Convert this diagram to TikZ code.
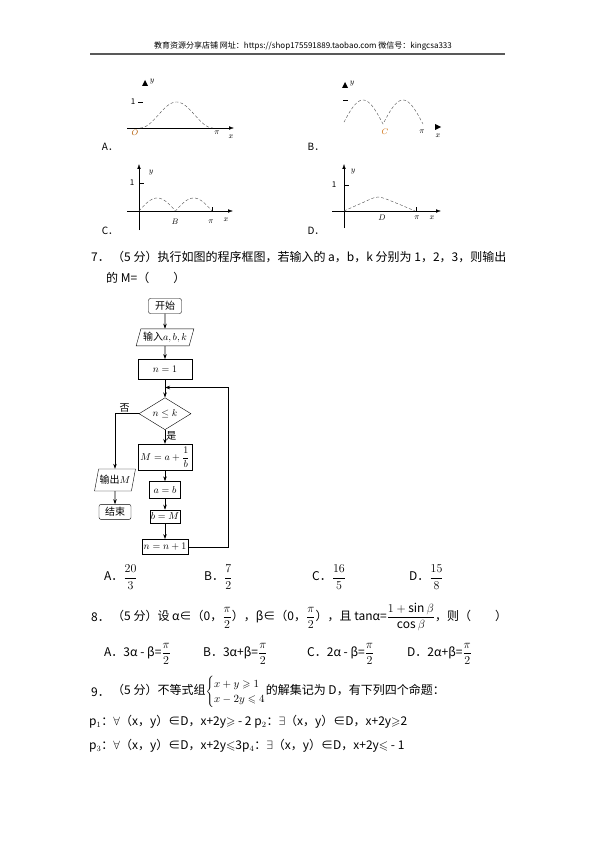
\documentclass[tikz,border=0pt]{standalone}
\usepackage{amsmath}
\usepackage{amssymb}
\usepackage{fontspec}
\setmainfont{Noto Sans CJK SC}
\usetikzlibrary{shapes.geometric,positioning,arrows.meta}

\tikzset{
  every node/.style={inner sep=1pt, font=\fontsize{12}{14}\selectfont},
  txt/.style={anchor=west},
  lbl/.style={font=\fontsize{8}{9}\selectfont},
  box/.style={draw, rectangle, inner sep=1pt, font=\fontsize{10}{12}\selectfont},
  term/.style={box, rounded corners=2pt},
  io/.style={draw, trapezium, trapezium left angle=70, trapezium right angle=110,
    trapezium stretches=true, inner sep=1pt, font=\fontsize{10}{12}\selectfont},
  test/.style={draw, diamond, aspect=1.6, inner sep=0pt, font=\fontsize{10}{12}\selectfont},
  flow/.style={-{Stealth[length=5pt,width=3.5pt]}, semithick},
  axis/.style={-{Latex[length=5pt,width=3.5pt]}, thin},
  curve/.style={densely dashed, gray!60!black, thin},
}

\begin{document}
\begin{tikzpicture}[x=1pt, y=-1pt]
    \useasboundingbox (0,0) rectangle (595,842);
    % header
    \node[font=\fontsize{8}{9}\selectfont] (head) at (303,46)
      {教育资源分享店铺\ 网址：https://shop175591889.taobao.com\ 微信号：kingcsa333};
    \draw[line width=1.2pt, gray!70!black] (90,54) -- (505,54);

    % graph A
    \fill (142,86) -- (148,86) -- (145,80) -- cycle;
    \node[lbl] (ay) at (152,82) {$y$};
    \node[lbl] (a1) at (133,102) {1};
    \draw (138,102) -- (143,102);
    \draw[axis] (127,128) -- (234,128);
    \draw[curve] plot[domain=0:1, samples=40] ({140+73*\x},{128-13*(1-cos(360*\x))});
    \node[lbl, orange!70!black] (ao) at (135,133) {$O$};
    \node[lbl] (api) at (217,133) {$\pi$};
    \node[lbl] (ax) at (231,137) {$x$};
    \node[font=\fontsize{10}{12}\selectfont] (la) at (110,147) {A．};

    % graph B
    \fill (342,88) -- (348,88) -- (345,82) -- cycle;
    \node[lbl] (by) at (352,84) {$y$};
    \draw (343,100) -- (348,100);
    \draw[curve] plot[domain=344:423, samples=80] (\x,{124-24*abs(sin(180*(\x-343)/40))});
    \node[lbl, orange!80!black] (bc) at (385,132) {$C$};
    \node[lbl] (bpi) at (422,132) {$\pi$};
    \fill (435,124) -- (435,130) -- (441,127) -- cycle;
    \node[lbl] (bx) at (438,136) {$x$};
    \node[font=\fontsize{10}{12}\selectfont] (lb) at (316,147) {B．};

    % graph C
    \draw[axis] (139,230) -- (139,164);
    \node[lbl] (cy) at (151,173) {$y$};
    \draw (139,183) -- (144,183);
    \node[lbl] (c1) at (132,183) {1};
    \draw[axis] (127,211) -- (233,211);
    \draw (212,211) -- (212,207);
    \draw[curve] plot[domain=139:212, samples=80] (\x,{211-13*abs(sin(180*(\x-139)/36.5))});
    \node[lbl] (cb) at (175,222) {$B$};
    \node[lbl] (cpi) at (211,222) {$\pi$};
    \node[lbl] (cx) at (226,220) {$x$};
    \node[font=\fontsize{10}{12}\selectfont] (lc) at (110,231) {C．};

    % graph D
    \draw[axis] (344,228) -- (344,164);
    \node[lbl] (dy) at (353,172) {$y$};
    \draw (344,185) -- (349,185);
    \node[lbl] (d1) at (334,185) {1};
    \draw[axis] (332,211) -- (441,211);
    \draw (416,211) -- (416,207);
    \draw[curve] plot[smooth] coordinates {(344,211) (362,203) (378,197) (396,203) (415,211)};
    \node[lbl] (dd) at (382,218) {$D$};
    \node[lbl] (dpi) at (417,218) {$\pi$};
    \node[lbl] (dx) at (432,218) {$x$};
    \node[font=\fontsize{10}{12}\selectfont] (ld) at (316,231) {D．};

    % question 7
    \node[txt] (q7n) at (90,257) {7．};
    \node[txt] (q7a) at (111,257) {（5 分）执行如图的程序框图，若输入的 a，b，k 分别为 1，2，3，则输出};
    \node[txt] (q7b) at (105,278) {的 M=（\qquad）};

    % flowchart
    \node[term, minimum width=33pt, minimum height=15pt] (start) at (165,306) {开始};
    \node[io, minimum width=58pt, minimum height=17pt, below=15pt of start] (input) {输入$a,b,k$};
    \node[box, minimum width=54pt, minimum height=20pt, below=13pt of input] (init) {$n=1$};
    \coordinate[below=8pt of init] (join);
    \node[test, minimum width=52pt, minimum height=32pt, below=18pt of init] (cond) {$n\leq k$};
    \node[box, minimum width=54pt, minimum height=26pt, below=14pt of cond] (upd) {$M=a+\dfrac{1}{b}$};
    \node[box, minimum width=31pt, minimum height=17pt, below=11pt of upd] (swapa) {$a=b$};
    \node[box, minimum width=29pt, minimum height=13pt, below=11pt of swapa] (swapb) {$b=M$};
    \node[box, minimum width=46pt, minimum height=15pt, below=16pt of swapb] (incr) {$n=n+1$};
    \node[io, minimum width=38pt, minimum height=22pt] (output) at (115,480) {输出$M$};
    \node[term, minimum width=32pt, minimum height=15pt, below=13pt of output] (stop) {结束};

    \draw[flow] (start) -- (input);
    \draw[flow] (input) -- (init);
    \draw[flow] (init) -- (cond);
    \draw[flow] (cond) -- node[right, pos=0.45, font=\fontsize{10}{12}\selectfont] {是} (upd);
    \draw[flow] (upd) -- (swapa);
    \draw[flow] (swapa) -- (swapb);
    \draw[flow] (swapb) -- (incr);
    \draw[flow] (incr.east) -- ++(40,0) |- (join);
    \draw[flow] (cond.west) -| node[above, pos=0.3, font=\fontsize{10}{12}\selectfont] {否} (output.north);
    \draw[flow] (output) -- (stop);

    % options 7
    \node[txt] (o7a) at (103,577) {A．$\dfrac{20}{3}$};
    \node[txt] (o7b) at (203,577) {B．$\dfrac{7}{2}$};
    \node[txt] (o7c) at (311,577) {C．$\dfrac{16}{5}$};
    \node[txt] (o7d) at (408,577) {D．$\dfrac{15}{8}$};

    % question 8
    \node[txt] (q8n) at (90,617) {8．};
    \node[txt] (q8a) at (111,617) {（5 分）设 α∈（0，$\dfrac{\pi}{2}$），β∈（0，$\dfrac{\pi}{2}$），且 tanα=$\dfrac{1+\sin\beta}{\cos\beta}$，则（\qquad）};
    \node[txt] (o8a) at (103,654) {A．3α - β=$\dfrac{\pi}{2}$};
    \node[txt] (o8b) at (202,654) {B．3α+β=$\dfrac{\pi}{2}$};
    \node[txt] (o8c) at (306,654) {C．2α - β=$\dfrac{\pi}{2}$};
    \node[txt] (o8d) at (406,654) {D．2α+β=$\dfrac{\pi}{2}$};

    % question 9
    \node[txt] (q9n) at (90,692) {9．};
    \node[txt] (q9a) at (111,692) {（5 分）不等式组{\fontsize{10.5}{12}\selectfont\renewcommand{\arraystretch}{1.25}$\left\{\begin{array}{@{}l@{}} x+y\geqslant 1\\ x-2y\leqslant 4\end{array}\right.$}的解集记为 D，有下列四个命题：};
    \node[txt] (p12) at (88,722) {p$_1$：$\forall$（x，y）∈D，x+2y$\geqslant$ - 2 p$_2$：$\exists$（x，y）∈D，x+2y$\geqslant$2};
    \node[txt] (p34) at (88,746) {p$_3$：$\forall$（x，y）∈D，x+2y$\leqslant$3p$_4$：$\exists$（x，y）∈D，x+2y$\leqslant$ - 1};
\end{tikzpicture}
\end{document}
